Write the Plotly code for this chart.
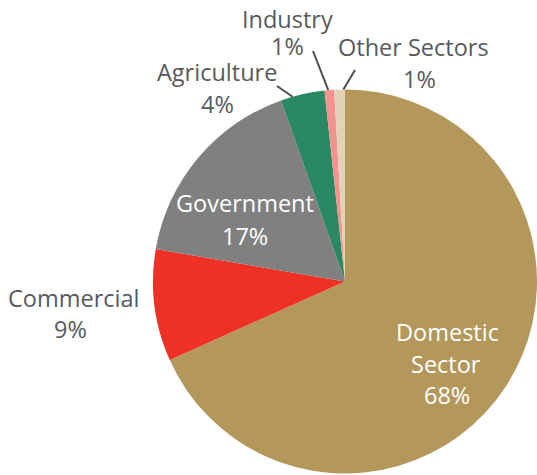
import math
import plotly.graph_objects as go

# ---- data ----
sectors = ["Domestic Sector", "Commercial", "Government", "Agriculture", "Industry", "Other Sectors"]
shares = [68.3, 9.4, 16.9, 3.7, 0.8, 0.9]
label_lines = [["Domestic", "Sector"], ["Commercial"], ["Government"], ["Agriculture"], ["Industry"], ["Other Sectors"]]

# ---- style ----
colors = ["#B3975B", "#EF3125", "#808080", "#2A8863", "#F4938D", "#E0D3BA"]
text_colors = ["white", "#58595B", "white", "#58595B", "#58595B", "#58595B"]
# per label: list of (x centre, baseline) in pixels, one per line (last = percentage)
label_place = [
    [(447, 340), (446, 372), (447, 403)],
    [(73, 306), (70, 337)],
    [(245, 211), (245, 244)],
    [(217, 80), (217, 112)],
    [(287, 27), (287, 54)],
    [(413, 55), (419, 87)],
]
# leader lines: (index, outer end px, fraction along slice)
leaders = [(3, (277, 86), 0.27), (4, (313, 51), 0.39), (5, (355, 70), 0.85)]

W, H = 537, 475
FONT = "Open Sans"
FS = 23.5
# pie geometry in pixels
cx, cy, r_px = 345, 281.5, 192
dom_x = [(cx - r_px) / W, min(1.0, (cx + r_px) / W)]
dom_y = [(H - cy - r_px) / H, (H - cy + r_px) / H]


def px_to_paper(x, y):
    return x / W, 1 - y / H


fig = go.Figure(go.Pie(
    values=shares, labels=sectors, sort=False, direction="clockwise", rotation=0,
    marker=dict(colors=colors, line=dict(width=0)),
    textinfo="none", hoverinfo="label+percent",
    domain=dict(x=dom_x, y=dom_y), showlegend=False,
))

total = sum(shares)
annotations = []
for i, lines in enumerate(label_lines):
    pct = f"{round(shares[i] / total * 100)}%"
    all_lines = lines + [pct]
    for k, t in enumerate(all_lines):
        x0, b0 = label_place[i][k]
        px, py = px_to_paper(x0, b0 - 8)
        annotations.append(dict(
            text=t, x=px, y=py, xref="paper", yref="paper",
            xanchor="center", yanchor="middle", showarrow=False,
            font=dict(family=FONT, size=FS, color=text_colors[i]),
        ))

shapes = []
cum = [sum(shares[:i]) for i in range(len(shares))]
for idx, (ox, oy), frac in leaders:
    theta = math.radians((cum[idx] + frac * shares[idx]) / total * 360)
    ex = cx + r_px * math.sin(theta)
    ey = cy - r_px * math.cos(theta)
    x0, y0 = px_to_paper(ox, oy)
    x1, y1 = px_to_paper(ex, ey)
    shapes.append(dict(type="line", xref="paper", yref="paper", x0=x0, y0=y0, x1=x1, y1=y1,
                       line=dict(color="#4D4D4F", width=2)))

fig.update_layout(
    width=W, height=H, margin=dict(l=0, r=0, t=0, b=0),
    paper_bgcolor="white", plot_bgcolor="white",
    annotations=annotations, shapes=shapes, showlegend=False,
)

fig.write_html(
    "out.html",
    config={"displayModeBar": False},
    post_script="document.body.style.margin='0';document.body.style.overflow='hidden';"
                "document.documentElement.style.overflow='hidden';",
)
